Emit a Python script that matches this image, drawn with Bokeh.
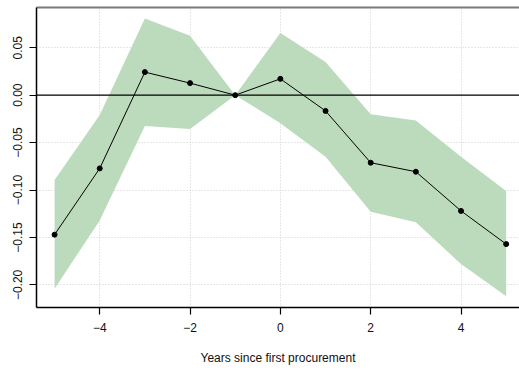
from bokeh.plotting import figure
from bokeh.models import (Range1d, FixedTicker, LinearAxis, Span, CustomJSTickFormatter,
                          ColumnDataSource)
from bokeh.embed import file_html
from bokeh.resources import INLINE

years = [-5, -4, -3, -2, -1, 0, 1, 2, 3, 4, 5]
estimate = [-0.147, -0.0772, 0.0243, 0.0127, 0.0, 0.0172, -0.0166, -0.0712, -0.0807, -0.122, -0.157]
upper = [-0.0895, -0.0208, 0.0807, 0.0627, 0.0, 0.0655, 0.0349, -0.0201, -0.0268, -0.065, -0.101]
lower = [-0.204, -0.132, -0.0325, -0.0356, 0.0, -0.0296, -0.065, -0.123, -0.134, -0.178, -0.212]
x_ticks = [-4, -2, 0, 2, 4]
y_ticks = [-0.20, -0.15, -0.10, -0.05, 0.00, 0.05]
x_label = "Years since first procurement"

src = ColumnDataSource(dict(x=years, y=estimate, lo=lower, hi=upper))

FONT = "Liberation Sans"

p = figure(width=519, height=370, output_backend="svg", toolbar_location=None,
           x_range=Range1d(-5.4, 5.295), y_range=Range1d(-0.2238, 0.0924),
           min_border_left=36, min_border_right=0, min_border_top=7, min_border_bottom=63,
           x_axis_label=x_label)

p.background_fill_color = "white"
p.border_fill_color = "white"
p.outline_line_color = None

# grid
for g in (p.xgrid, p.ygrid):
    g.grid_line_color = "#cfcfcf"
    g.grid_line_dash = "1 2"
    g.grid_line_width = 1
p.xgrid.ticker = FixedTicker(ticks=x_ticks)
p.ygrid.ticker = FixedTicker(ticks=y_ticks)

minus_fmt_x = CustomJSTickFormatter(code="return String(tick).replace('-', '\u2212');")
minus_fmt_y = CustomJSTickFormatter(code="return tick.toFixed(2).replace('-', '\u2212');")

for ax in (p.xaxis[0], p.yaxis[0]):
    ax.axis_line_color = "black"
    ax.axis_line_width = 1.5
    ax.major_tick_line_color = "black"
    ax.major_tick_line_width = 1.2
    ax.major_tick_out = 7
    ax.major_tick_in = 0
    ax.minor_tick_line_color = None
    ax.major_label_text_font = FONT
    ax.major_label_text_font_size = "12px"
    ax.major_label_text_color = "#111111"
    ax.axis_label_text_font = FONT
    ax.axis_label_text_font_size = "12px"
    ax.axis_label_text_font_style = "normal"
    ax.axis_label_text_color = "#111111"

p.xaxis[0].ticker = FixedTicker(ticks=x_ticks)
p.yaxis[0].ticker = FixedTicker(ticks=y_ticks)
p.xaxis[0].formatter = minus_fmt_x
p.yaxis[0].formatter = minus_fmt_y
p.yaxis[0].major_label_orientation = "vertical"
p.xaxis[0].major_label_standoff = 8
p.yaxis[0].major_label_standoff = 7
p.xaxis[0].axis_label_standoff = 16

# gray top frame line
top = LinearAxis(axis_line_color="#7a7a7a", axis_line_width=2,
                 major_tick_line_color=None, minor_tick_line_color=None,
                 major_label_text_font_size="0px", major_label_standoff=0,
                 ticker=FixedTicker(ticks=[]))
p.add_layout(top, "above")

p.varea(x="x", y1="lo", y2="hi", source=src, fill_color="#bcdbbc", fill_alpha=1.0)
p.add_layout(Span(location=0, dimension="width", line_color="black", line_width=1.3))
p.line(x="x", y="y", source=src, line_color="black", line_width=1)
p.scatter(x="x", y="y", source=src, size=5, fill_color="black", line_color="black")

open("out.html", "w").write(file_html(p, INLINE))
